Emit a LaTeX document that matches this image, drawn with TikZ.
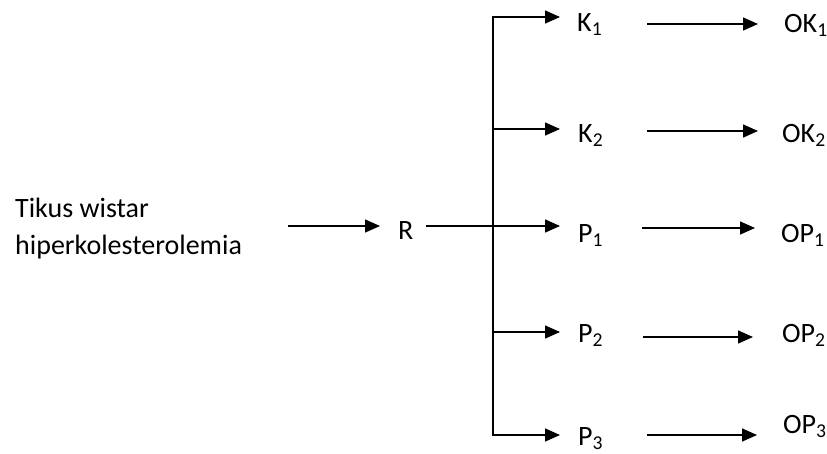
\documentclass[tikz,border=0pt]{standalone}
\usepackage{fontspec}
\setmainfont{Carlito}
\usetikzlibrary{arrows.meta}
\newcommand{\lowidx}[1]{\textsubscript{#1}}
\begin{document}
\begin{tikzpicture}[x=1pt,y=-1pt,
  lbl/.style={inner sep=0pt,anchor=base west,font=\fontsize{28}{37}\selectfont},
  arr/.style={line width=1.5pt,-{Triangle[length=15pt,width=13pt]}},
  bar/.style={line width=1.5pt,line join=miter,line cap=rect}]
\useasboundingbox (0,0) rectangle (827,453);

% group and outcome labels
\node[lbl,align=left] (T) at (15,254) {Tikus wistar\\hiperkolesterolemia};
\node[lbl] (R)   at (398,239) {R};
\node[lbl] (K1)  at (577,31)  {K\lowidx{1}};
\node[lbl] (K2)  at (578,142) {K\lowidx{2}};
\node[lbl] (P1)  at (578,242) {P\lowidx{1}};
\node[lbl] (P2)  at (578,342) {P\lowidx{2}};
\node[lbl] (P3)  at (578,445) {P\lowidx{3}};
\node[lbl] (OK1) at (784,32)  {OK\lowidx{1}};
\node[lbl] (OK2) at (782,142) {OK\lowidx{2}};
\node[lbl] (OP1) at (781,242) {OP\lowidx{1}};
\node[lbl] (OP2) at (782,342) {OP\lowidx{2}};
\node[lbl] (OP3) at (783,433) {OP\lowidx{3}};

% junctions on the distribution bar
\coordinate (j1) at (493,17);
\coordinate (j2) at (493,129);
\coordinate (j3) at (493,226);
\coordinate (j4) at (493,332);
\coordinate (j5) at (493,435);

% heights of the outcome arrows
\coordinate (r1) at (0,24);
\coordinate (r2) at (0,131);
\coordinate (r3) at (0,228);
\coordinate (r4) at (0,337);
\coordinate (r5) at (0,435);

% input and randomisation
\draw[arr,shorten <=46pt,shorten >=18pt] (T.east |- j3) -- (R.west |- j3);
\draw[line width=1.5pt,shorten <=12pt] (R.east |- j3) -- (j3);
\draw[bar] (j1) -- (j5);

% branches to the groups
\draw[arr,shorten >=17pt] (j1) -- (K1.west |- j1);
\draw[arr,shorten >=18pt] (j2) -- (K2.west |- j2);
\draw[arr,shorten >=18pt] (j3) -- (P1.west |- j3);
\draw[arr,shorten >=18pt] (j4) -- (P2.west |- j4);
\draw[arr,shorten >=18pt] (j5) -- (P3.west |- j5);

% groups to outcomes
\draw[arr,shorten <=45pt,shorten >=26pt] (K1.east |- r1) -- (OK1.west |- r1);
\draw[arr,shorten <=44pt,shorten >=24pt] (K2.east |- r2) -- (OK2.west |- r2);
\draw[arr,shorten <=39pt,shorten >=26pt] (P1.east |- r3) -- (OP1.west |- r3);
\draw[arr,shorten <=40pt,shorten >=29pt] (P2.east |- r4) -- (OP2.west |- r4);
\draw[arr,shorten <=44pt,shorten >=26pt] (P3.east |- r5) -- (OP3.west |- r5);
\end{tikzpicture}
\end{document}
